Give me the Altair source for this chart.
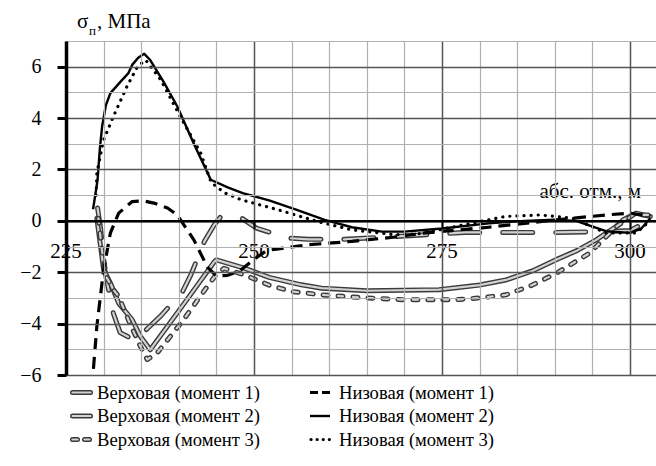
import altair as alt
import pandas as pd

# ---------------- data ----------------
names = ["Верховая (момент 1)", "Верховая (момент 2)", "Верховая (момент 3)",
         "Низовая (момент 1)", "Низовая (момент 2)", "Низовая (момент 3)"]

v1_x = [229.2, 229.6, 230.2, 231.3, 232.2, 233.5, 234.4, 235.8, 237.6, 240.5, 241.6, 243.4,
        244.7, 245.6, 248.3, 250.3, 254.5, 257.2, 262.0, 268.8, 278.0, 290.0, 297.0, 300.0,
        301.8, 302.8]
v1_y = [0.5, -0.3, -2.0, -3.6, -4.35, -4.55, -4.62, -4.2, -3.7, -2.75, -2.1, -0.8,
        -0.16, 0.17, 0.12, -0.28, -0.67, -0.72, -0.72, -0.61, -0.45, -0.45, -0.42, -0.38,
        -0.1, 0.15]

v2_x = [229.1, 229.6, 230.0, 230.9, 232.0, 233.8, 234.9, 236.2, 240.5, 244.7, 245.0, 248.7,
        252.0, 256.3, 259.0, 265.0, 274.6, 280.0, 283.5, 287.0, 290.1, 293.0, 295.5, 298.0,
        299.1, 300.8, 302.7]
v2_y = [0.1, -1.0, -1.9, -2.42, -3.2, -3.85, -4.5, -5.02, -3.3, -1.6, -1.52, -1.84,
        -2.2, -2.49, -2.62, -2.72, -2.68, -2.5, -2.3, -1.95, -1.52, -1.15, -0.74, -0.25,
        0.04, 0.3, 0.17]

v3_x = [229.3, 229.8, 230.4, 231.3, 232.0, 233.5, 234.9, 235.8, 237.1, 240.5, 243.8, 245.1,
        246.0, 248.7, 252.0, 255.0, 259.0, 265.0, 270.0, 276.8, 280.0, 283.5, 287.0, 290.2,
        294.6, 298.2, 300.4, 302.4]
v3_y = [0.1, -1.2, -2.2, -2.68, -2.94, -4.0, -4.89, -5.4, -5.15, -3.9, -2.55, -2.04,
        -1.85, -2.1, -2.5, -2.75, -2.88, -3.0, -3.07, -3.07, -3.0, -2.88, -2.5, -2.04,
        -1.26, -0.22, 0.23, 0.23]

n1_x = [228.4, 228.6, 229.1, 230.0, 230.9, 232.0, 233.8, 235.2, 236.7, 238.5, 239.8, 242.0,
        243.8, 245.0, 246.5, 248.1, 250.0, 251.7, 253.0, 257.2, 263.0, 268.8, 272.3, 281.2,
        290.2, 296.8, 300.0, 302.7]
n1_y = [-6.5, -5.93, -4.11, -1.9, -0.48, 0.3, 0.75, 0.78, 0.69, 0.5, 0.23, -0.74,
        -1.8, -2.15, -2.12, -1.95, -1.5, -1.15, -1.1, -0.93, -0.8, -0.63, -0.48, -0.25,
        0.04, 0.23, 0.3, 0.17]

n2_x = [228.6, 229.2, 229.5, 229.8, 230.3, 230.9, 232.2, 233.3, 233.8, 234.6, 235.4, 236.2,
        238.0, 239.8, 242.0, 244.25, 246.5, 248.5, 252.0, 255.5, 259.4, 263.0, 267.0, 270.0,
        275.0, 281.2, 286.0, 290.0, 292.8, 296.8, 300.0, 301.5, 302.7]
n2_y = [0.45, 1.6, 2.8, 3.67, 4.5, 4.97, 5.4, 5.75, 6.07, 6.35, 6.5, 6.26,
        5.4, 4.45, 3.0, 1.6, 1.3, 1.08, 0.8, 0.45, 0.04, -0.25, -0.42, -0.42,
        -0.3, -0.1, 0.0, 0.04, 0.0, -0.4, -0.47, -0.3, 0.1]

n3_x = [229.0, 229.1, 230.0, 231.3, 233.1, 234.5, 235.6, 237.6, 240.2, 242.9, 244.3, 246.0,
        248.3, 253.2, 258.5, 263.0, 268.7, 272.0, 276.8, 283.4, 288.0, 292.4, 296.8, 300.8,
        302.7]
n3_y = [1.0, 1.86, 3.15, 4.06, 5.23, 6.0, 6.26, 5.49, 4.06, 2.64, 1.5, 1.1,
        0.82, 0.43, -0.03, -0.35, -0.54, -0.5, -0.22, 0.17, 0.23, 0.1, -0.47, -0.47,
        0.0]

x_ticks = [225, 250, 275, 300]
x_grid = [225, 230, 235, 240, 245, 250, 255, 260, 265, 270, 275, 280, 285, 290, 295, 300]
y_grid = [-6, -5, -4, -3, -2, -1, 0, 1, 2, 3, 4, 5, 6, 7]

# ---------------- layout ----------------
X0, X1 = 225, 303.45
Y0, Y1 = -6, 7
W, H = 590, 334
FONT = "Liberation Serif, Times New Roman, serif"
MAJ, MIN = "#555555", "#b0b0b0"

xs = alt.Scale(domain=[X0, X1], nice=False, zero=False)
ys = alt.Scale(domain=[Y0, Y1], nice=False, zero=False)
X = lambda f: alt.X(f, type="quantitative", scale=xs)
Y = lambda f: alt.Y(f, type="quantitative", scale=ys)


def df_xy(xv, yv):
    return pd.DataFrame({"x": xv, "y": yv, "i": list(range(len(xv)))})


def line(xv, yv, color, width, dash=None, cap="butt"):
    kw = dict(color=color, strokeWidth=width, clip=True, strokeCap=cap, strokeJoin="round")
    if dash:
        kw["strokeDash"] = dash
    return alt.Chart(df_xy(xv, yv)).mark_line(**kw).encode(x=X("x"), y=Y("y"), order="i:Q")


def cond(test, a, b):
    return {"condition": {"test": test, "value": a}, "value": b}


layers = []

# axes layer (first, holds all axis + grid settings)
xmaj = "datum.value % 25 === 0"
ymaj = "datum.value % 2 === 0"
axis_layer = alt.Chart(pd.DataFrame({"x": [X0], "y": [Y0]})).mark_point(opacity=0).encode(
    x=alt.X("x:Q", scale=xs, title=None,
            axis=alt.Axis(values=x_grid, tickCount=len(x_grid) + 2, labels=False, grid=True,
                          gridColor=cond(xmaj, MAJ, MIN), gridWidth=cond(xmaj, 1.5, 1.2),
                          domainColor="black", domainWidth=2.5, tickColor="black", tickWidth=2,
                          tickSize=8, tickOpacity=cond(xmaj, 1, 0),
                          offset=-H * (0 - Y0) / (Y1 - Y0), zindex=1)),
    y=alt.Y("y:Q", scale=ys, title=None,
            axis=alt.Axis(values=y_grid, tickCount=len(y_grid) + 2, grid=True,
                          gridColor=cond(ymaj, MAJ, MIN), gridWidth=cond(ymaj, 1.5, 1.2),
                          domainColor="black", domainWidth=3.5,
                          tickColor="black", tickWidth=3, tickSize=9,
                          tickOpacity=cond(ymaj + " && datum.value < 7", 1, 0),
                          labelExpr="datum.value % 2 === 0 && datum.value < 7 ? datum.label : ''",
                          labelFont=FONT, labelFontSize=20, labelColor="black", labelPadding=16,
                          labelOverlap=False, format="d", zindex=1)),
)
layers.append(axis_layer)

# x tick labels with white background halo
lab_df = pd.DataFrame({"t": x_ticks})
ylab = H * (Y1 - 0) / (Y1 - Y0) + 31
layers.append(alt.Chart(lab_df).mark_text(font=FONT, fontSize=21, stroke="white", strokeWidth=9,
                                          strokeJoin="round", color="white", baseline="middle")
              .encode(x=X("t"), y=alt.value(ylab), text="t:N"))
layers.append(alt.Chart(lab_df).mark_text(font=FONT, fontSize=21, color="black", baseline="middle")
              .encode(x=X("t"), y=alt.value(ylab), text="t:N"))

# x axis title
one = pd.DataFrame({"a": [0]})
xt_y = H * (Y1 - 0) / (Y1 - Y0) - 29
for kw in (dict(stroke="white", strokeWidth=9, color="white", strokeJoin="round"), dict(color="black")):
    layers.append(alt.Chart(one).mark_text(
        font=FONT, fontSize=21, align="right", baseline="middle", **kw)
        .encode(x=alt.value(575), y=alt.value(xt_y), text=alt.value("абс. отм., м")))

# series
DASH_V1 = [30, 23]
DASH_V3 = [5, 10]
OUT, IN = "#3a3a3a", "#d2d2d2"
layers += [
    line(v1_x, v1_y, OUT, 5, DASH_V1, "round"), line(v1_x, v1_y, IN, 2.2, DASH_V1, "round"),
    line(v2_x, v2_y, OUT, 5, None, "round"), line(v2_x, v2_y, IN, 2.2, None, "round"),
    line(v3_x, v3_y, OUT, 5, DASH_V3, "round"), line(v3_x, v3_y, IN, 2.2, DASH_V3, "round"),
    line(n1_x, n1_y, "black", 3.2, [12, 7]),
    line(n2_x, n2_y, "black", 2.4),
    line(n3_x, n3_y, "black", 3.2, [0.1, 7], "round"),
]

# y title
layers.append(alt.Chart(one).mark_text(font=FONT, fontSize=21, align="left", baseline="alphabetic", color="black")
              .encode(x=alt.value(11), y=alt.value(-13), text=alt.value("σ")))
layers.append(alt.Chart(one).mark_text(font=FONT, fontSize=13, align="left", baseline="alphabetic", color="black")
              .encode(x=alt.value(23), y=alt.value(-6), text=alt.value("п")))
layers.append(alt.Chart(one).mark_text(font=FONT, fontSize=21, align="left", baseline="alphabetic", color="black")
              .encode(x=alt.value(31), y=alt.value(-13), text=alt.value(", МПа")))

# manual legend
leg_rows = [H + 17.5, H + 41, H + 64.5]
leg_cols = [2, 244]
styles = [
    [(OUT, 5, None, "round"), (IN, 2.2, None, "round")],
    [(OUT, 5, None, "round"), (IN, 2.2, None, "round")],
    [(OUT, 5, [5, 7], "round"), (IN, 2.2, [5, 7], "round")],
    [("black", 3.2, [8, 4], "butt")],
    [("black", 2.4, None, "butt")],
    [("black", 3.2, [0.1, 6], "round")],
]
for k, name in enumerate(names):
    col, row = k // 3, k % 3
    xa = leg_cols[col]
    yy = leg_rows[row]
    if k < 3:
        x_from, x_to = xa + 4.5, xa + 22.5
    elif k == 5:
        x_from, x_to = xa + 1, xa + 23
    else:
        x_from, x_to = xa + 0, xa + 20
    for (c, w, d, cap) in styles[k]:
        kw = dict(color=c, strokeWidth=w, strokeCap=cap)
        if d:
            kw["strokeDash"] = d
        layers.append(alt.Chart(one).mark_rule(**kw).encode(
            x=alt.value(x_from), x2=alt.value(x_to), y=alt.value(yy)))
    layers.append(alt.Chart(one).mark_text(font=FONT, fontSize=18.6, align="left", baseline="middle", color="black")
                  .encode(x=alt.value(xa + 29), y=alt.value(yy), text=alt.value(name)))

chart = alt.layer(*layers).properties(
    width=W, height=H,
    autosize=alt.AutoSizeParams(type="none"),
    padding={"left": 66, "top": 41, "right": 0, "bottom": 91},
).configure_view(stroke=None).configure(background="white")

chart.save("out.html", embed_options={"renderer": "svg", "actions": False})
